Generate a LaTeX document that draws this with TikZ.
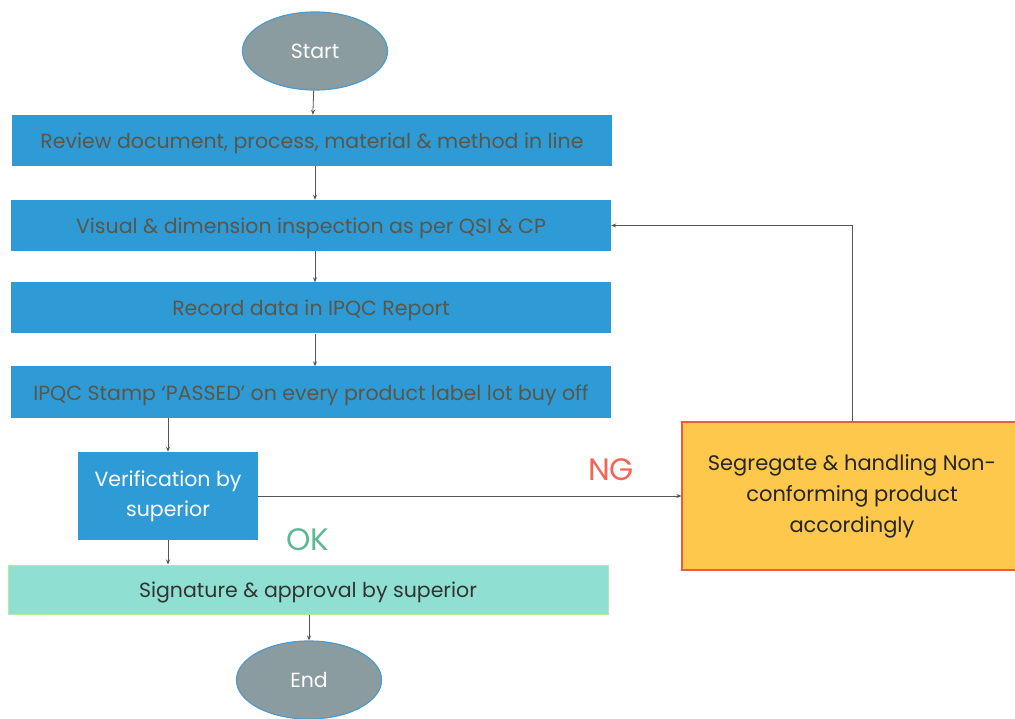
\documentclass[tikz,border=0pt]{standalone}
\usepackage{fontspec}
\setmainfont{Poppins}
\usetikzlibrary{arrows.meta,shapes.geometric}
\definecolor{stepblue}{HTML}{2E9BD6}
\definecolor{steptext}{HTML}{5A5648}
\definecolor{termfill}{HTML}{8A9CA0}
\definecolor{termline}{HTML}{4E9ACB}
\definecolor{signfill}{HTML}{8FE0D2}
\definecolor{signline}{HTML}{B8E8A8}
\definecolor{ngfill}{HTML}{FEC84C}
\definecolor{ngline}{HTML}{EE5A3C}
\definecolor{ngtext}{HTML}{F2665A}
\definecolor{oktext}{HTML}{5DB894}
\definecolor{wire}{HTML}{555555}
\tikzset{
  x=1pt, y=-1pt,
  terminal/.style={ellipse, draw=termline, line width=1.2pt, fill=termfill,
    text=white, font=\fontsize{20.5}{24}\selectfont, minimum width=145pt, minimum height=78pt, inner sep=0pt},
  stepbox/.style={rectangle, fill=stepblue, text=steptext, minimum width=600pt,
    minimum height=51pt, font=\fontsize{20.5}{24}\selectfont, inner sep=0pt,
    text height=18pt, text depth=2pt},
  checkbox/.style={rectangle, fill=stepblue, text=white, minimum width=180pt,
    minimum height=88pt, font=\fontsize{20.5}{30}\selectfont, align=center, inner sep=0pt},
  signbox/.style={rectangle, draw=signline, line width=1pt, fill=signfill, text=black!80,
    minimum width=600pt, minimum height=49pt, font=\fontsize{20.5}{24}\selectfont, inner sep=0pt,
    text height=18pt, text depth=2pt},
  ngbox/.style={rectangle, draw=ngline, line width=1.2pt, fill=ngfill, text=black!85,
    minimum width=340pt, minimum height=148pt, font=\fontsize{21}{31}\selectfont, align=center, inner sep=0pt},
  flow/.style={draw=wire, line width=0.8pt, -{Stealth[length=5pt,width=4pt]}},
  tag/.style={font=\fontsize{31}{34}\selectfont, inner sep=0pt}
}
\begin{document}
\begin{tikzpicture}
\useasboundingbox (0,0) rectangle (1015,719);
\fill[white] (0,0) rectangle (1015,719);

\node[terminal] (start) at (315,51) {Start};
\node[stepbox] (review) at (312,140.5) {Review document, process, material \& method in line};
\node[stepbox] (visual) at (311,225.5) {Visual \& dimension inspection as per QSI \& CP};
\node[stepbox] (record) at (311,308) {Record data in IPQC Report};
\node[stepbox] (stamp) at (311,392) {IPQC Stamp ‘PASSED’ on every product label lot buy off};
\node[checkbox] (verify) at (168,496) {Verification by\\superior};
\node[signbox] (sign) at (308,589.5) {Signature \& approval by superior};
\node[ngbox] (segregate) at (852,496) {Segregate \& handling Non-\\conforming product\\accordingly};
\node[terminal] (end) at (309,680) {End};

\node[tag, text=ngtext] (ng) at (611,470) {NG};
\node[tag, text=oktext] (ok) at (308,540) {OK};

\draw[flow] (start) -- (review);
\draw[flow] (review.south -| start) -- (visual.north -| start);
\draw[flow] (visual.south -| start) -- (record.north -| start);
\draw[flow] (record.south -| start) -- (stamp.north -| start);
\draw[flow] (stamp.south -| verify) -- (verify);
\draw[flow] (verify) -- (sign.north -| verify);
\draw[flow] (sign.south -| end) -- (end);
\draw[flow] (verify) -- (segregate);
\draw[flow] (segregate.north) |- (visual.east);
\end{tikzpicture}
\end{document}
